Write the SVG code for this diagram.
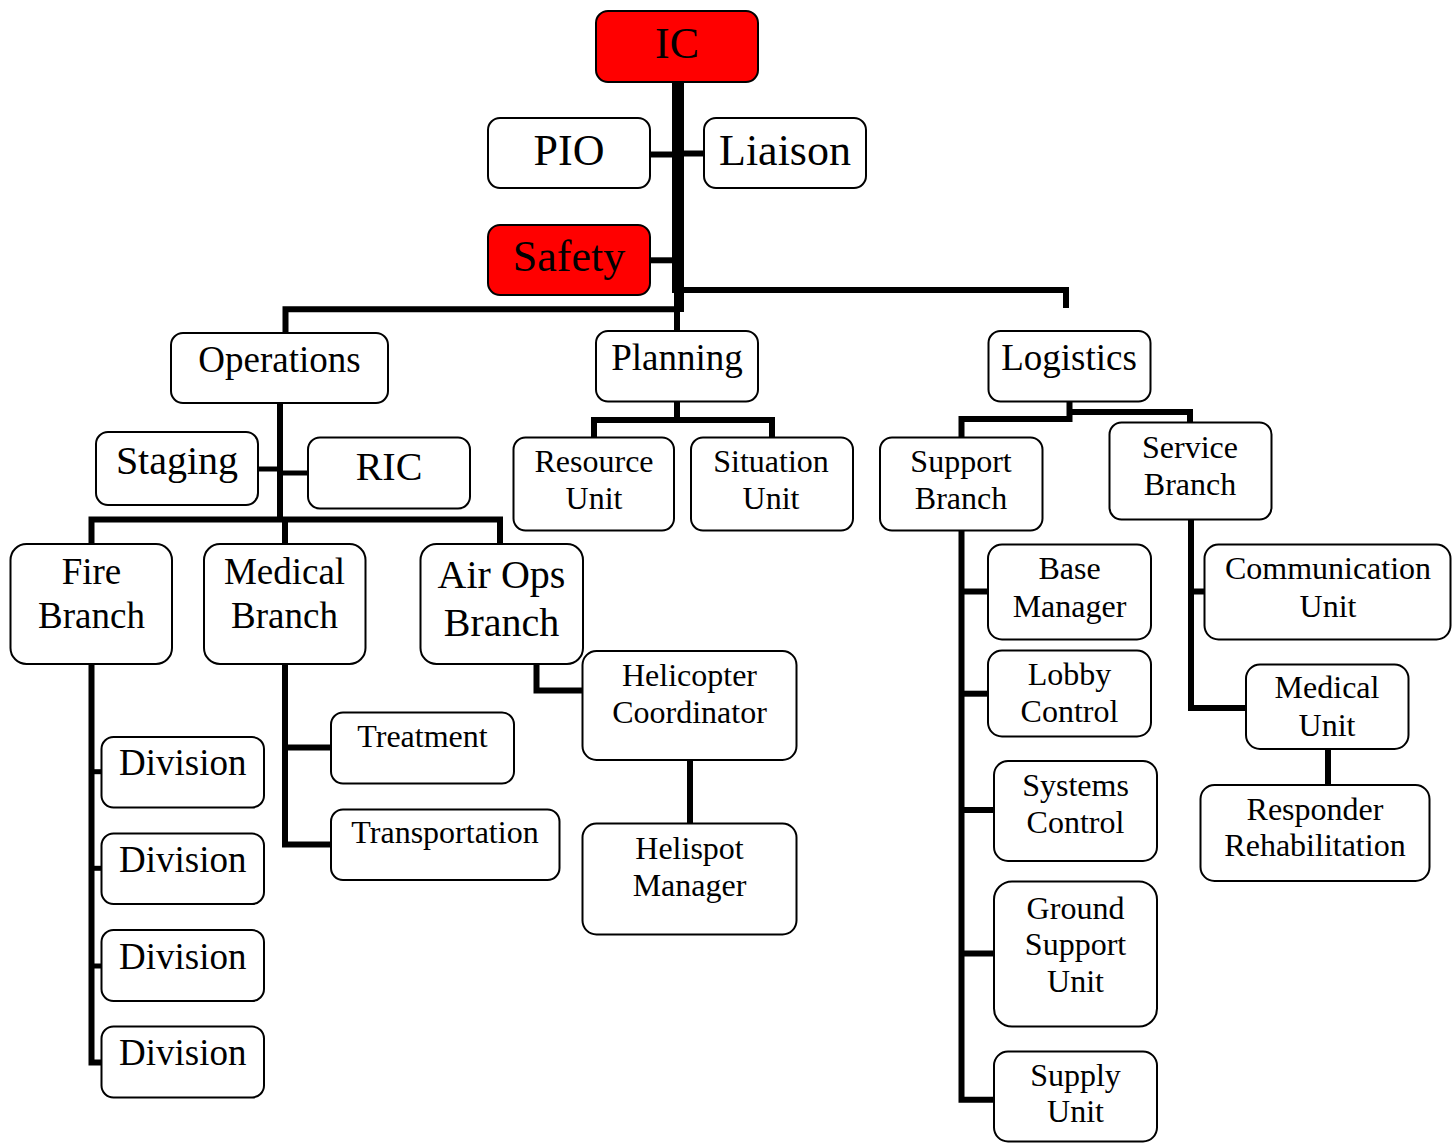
<svg xmlns="http://www.w3.org/2000/svg" width="1452" height="1144" viewBox="0 0 1452 1144">
<style>
.box{fill:#ffffff;stroke:#000000;stroke-width:2}
.red{fill:#ff0000;stroke:#000000;stroke-width:2}
text{font-family:"Liberation Serif","Times New Roman",serif;fill:#000000;text-anchor:middle}
.f44{font-size:44px}
.f40{font-size:40px}
.f37{font-size:37px}
.f32{font-size:32px}
.c{fill:none;stroke:#000000;stroke-width:6;stroke-linejoin:miter;stroke-linecap:butt}
.s{fill:none;stroke:#000000;stroke-width:5;stroke-linecap:butt}
</style>
<rect x="0" y="0" width="1452" height="1144" fill="#ffffff"/>
<g id="connectors">
  <rect x="672" y="82" width="12" height="211" fill="#000"/>
  <rect x="674" y="292" width="10" height="20" fill="#000"/>
  <path class="c" d="M677,311 V331"/>
  <path class="c" d="M650,154.5 H672"/>
  <path class="c" d="M684,153.5 H703"/>
  <path class="c" d="M650,260.3 H672"/>
  <path class="c" d="M684,290 H1066 V308"/>
  <path class="c" d="M675,309.3 H285.5 V332"/>
  <path class="c" d="M280,403 V519.5"/>
  <path class="s" d="M258,469 H280"/>
  <path class="s" d="M280,473 H308"/>
  <path class="c" d="M91.5,544 V519.5 H500 V544"/>
  <path class="c" d="M285,519.5 V544"/>
  <path class="c" d="M91.5,664 V1062.5 H102"/>
  <path class="s" d="M94,771.7 H102"/>
  <path class="s" d="M94,868.3 H102"/>
  <path class="s" d="M94,966 H102"/>
  <path class="c" d="M285,664 V844.5 H331"/>
  <path class="c" d="M285,747.5 H331"/>
  <path class="c" d="M536.5,664 V690.5 H582"/>
  <path class="c" d="M690,760 V823.5"/>
  <path class="c" d="M677,401.7 V420"/>
  <path class="c" d="M594,437.5 V420 H772 V437.5"/>
  <path class="c" d="M1069.5,401.7 V419 H961.5 V437.5"/>
  <path class="c" d="M1069.5,412 H1190 V422.5"/>
  <path class="c" d="M961.5,530.7 V1099.7 H994"/>
  <path class="c" d="M961.5,591.5 H988"/>
  <path class="c" d="M961.5,693.7 H988"/>
  <path class="c" d="M961.5,810 H994"/>
  <path class="c" d="M961.5,953.6 H994"/>
  <path class="c" d="M1191,519.3 V708 H1246"/>
  <path class="c" d="M1191,591.5 H1204"/>
  <path class="c" d="M1328,749 V785"/>
</g>
<g id="ic"><rect class="red" x="596" y="11" width="162" height="71" rx="12"/><text class="f44" x="677" y="58">IC</text></g>
<g id="pio"><rect class="box" x="488" y="118" width="162" height="70" rx="12"/><text class="f44" x="569" y="165">PIO</text></g>
<g id="liaison"><rect class="box" x="704" y="118" width="162" height="70" rx="12"/><text class="f44" x="785" y="165">Liaison</text></g>
<g id="safety"><rect class="red" x="488" y="225" width="162" height="70" rx="12"/><text class="f44" x="569" y="271">Safety</text></g>
<g id="operations"><rect class="box" x="171" y="333" width="217" height="70" rx="12"/><text class="f37" x="279.5" y="372">Operations</text></g>
<g id="planning"><rect class="box" x="596" y="331" width="162" height="70.5" rx="12"/><text class="f37" x="677" y="370">Planning</text></g>
<g id="logistics"><rect class="box" x="988.5" y="331" width="162" height="70.5" rx="12"/><text class="f37" x="1069" y="370">Logistics</text></g>
<g id="staging"><rect class="box" x="96" y="432" width="162" height="73" rx="12"/><text class="f40" x="177" y="474">Staging</text></g>
<g id="ric"><rect class="box" x="308" y="437.5" width="162" height="71" rx="12"/><text class="f40" x="389" y="480">RIC</text></g>
<g id="resource-unit"><rect class="box" x="513.5" y="437.5" width="160.5" height="93" rx="12"/><text class="f32" x="594" y="472">Resource</text><text class="f32" x="594" y="508.5">Unit</text></g>
<g id="situation-unit"><rect class="box" x="691" y="437.5" width="162" height="93" rx="12"/><text class="f32" x="771" y="472">Situation</text><text class="f32" x="771" y="508.5">Unit</text></g>
<g id="support-branch"><rect class="box" x="880" y="437.5" width="162.5" height="93" rx="12"/><text class="f32" x="961" y="472">Support</text><text class="f32" x="961" y="508.5">Branch</text></g>
<g id="service-branch"><rect class="box" x="1109.5" y="422.5" width="162" height="97" rx="12"/><text class="f32" x="1190" y="457.5">Service</text><text class="f32" x="1190" y="495">Branch</text></g>
<g id="fire-branch"><rect class="box" x="10.5" y="544" width="161.5" height="120" rx="16"/><text class="f37" x="91.5" y="584">Fire</text><text class="f37" x="91.5" y="627.5">Branch</text></g>
<g id="medical-branch"><rect class="box" x="204" y="544" width="161.5" height="120" rx="16"/><text class="f37" x="284.5" y="584">Medical</text><text class="f37" x="284.5" y="627.5">Branch</text></g>
<g id="air-ops-branch"><rect class="box" x="420.5" y="544" width="162.5" height="120" rx="16"/><text class="f40" x="501.5" y="588">Air Ops</text><text class="f40" x="501.5" y="636">Branch</text></g>
<g id="helicopter-coordinator"><rect class="box" x="582.5" y="651" width="214" height="109" rx="14"/><text class="f32" x="689.5" y="686">Helicopter</text><text class="f32" x="689.5" y="723">Coordinator</text></g>
<g id="helispot-manager"><rect class="box" x="582.5" y="823.5" width="214" height="111" rx="14"/><text class="f32" x="689.5" y="858.5">Helispot</text><text class="f32" x="689.5" y="896">Manager</text></g>
<g id="treatment"><rect class="box" x="331" y="712.5" width="183" height="71" rx="12"/><text class="f32" x="422.5" y="747">Treatment</text></g>
<g id="transportation"><rect class="box" x="331" y="809.5" width="228.5" height="70.5" rx="12"/><text class="f32" x="445" y="843">Transportation</text></g>
<g id="division-1"><rect class="box" x="101.5" y="737" width="162.5" height="70.5" rx="12"/><text class="f37" x="182.7" y="775">Division</text></g>
<g id="division-2"><rect class="box" x="101.5" y="833.5" width="162.5" height="70.5" rx="12"/><text class="f37" x="182.7" y="871.5">Division</text></g>
<g id="division-3"><rect class="box" x="101.5" y="930" width="162.5" height="71" rx="12"/><text class="f37" x="182.7" y="968.5">Division</text></g>
<g id="division-4"><rect class="box" x="101.5" y="1026.5" width="162.5" height="71" rx="12"/><text class="f37" x="182.7" y="1065">Division</text></g>
<g id="base-manager"><rect class="box" x="988" y="544.5" width="163" height="95" rx="14"/><text class="f32" x="1069.5" y="579">Base</text><text class="f32" x="1069.5" y="617">Manager</text></g>
<g id="lobby-control"><rect class="box" x="988" y="650.5" width="163" height="86" rx="14"/><text class="f32" x="1069.5" y="685">Lobby</text><text class="f32" x="1069.5" y="722">Control</text></g>
<g id="systems-control"><rect class="box" x="994" y="761" width="163" height="100" rx="14"/><text class="f32" x="1075.5" y="795.5">Systems</text><text class="f32" x="1075.5" y="833">Control</text></g>
<g id="ground-support-unit"><rect class="box" x="994" y="881.5" width="163" height="145" rx="18"/><text class="f32" x="1075.5" y="919">Ground</text><text class="f32" x="1075.5" y="955">Support</text><text class="f32" x="1075.5" y="992">Unit</text></g>
<g id="supply-unit"><rect class="box" x="994" y="1051.5" width="163" height="90" rx="14"/><text class="f32" x="1075.5" y="1086">Supply</text><text class="f32" x="1075.5" y="1122">Unit</text></g>
<g id="communication-unit"><rect class="box" x="1204.5" y="544.5" width="246" height="95" rx="14"/><text class="f32" x="1328" y="579">Communication</text><text class="f32" x="1328" y="617">Unit</text></g>
<g id="medical-unit"><rect class="box" x="1246" y="664.5" width="162.5" height="84.5" rx="14"/><text class="f32" x="1327" y="698">Medical</text><text class="f32" x="1327" y="736">Unit</text></g>
<g id="responder-rehabilitation"><rect class="box" x="1200.5" y="785" width="229" height="96" rx="14"/><text class="f32" x="1315" y="820">Responder</text><text class="f32" x="1315" y="856">Rehabilitation</text></g>
</svg>
